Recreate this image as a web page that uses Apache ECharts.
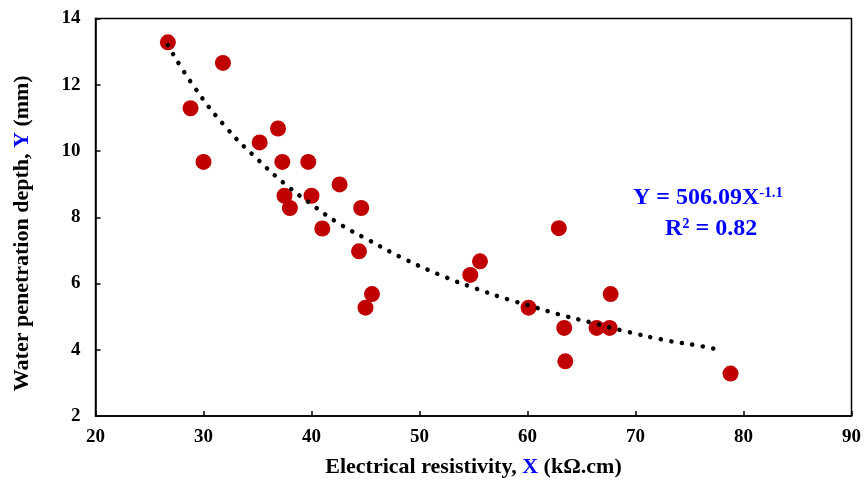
<!DOCTYPE html>
<html>
<head>
<meta charset="utf-8">
<script src="https://cdn.jsdelivr.net/npm/echarts@6/dist/echarts.min.js"></script>
<style>
	html, body { margin: 0; padding: 0; background: #fff; }
	#chart { width: 865px; height: 490px; }
</style>
</head>
<body>
<div id="chart"></div>
<script>
// measured points: resistivity (kΩ.cm) vs water penetration depth (mm)
const resistivity = [
	26.7, 28.8, 30.0, 31.8, 35.2, 36.9, 37.3, 37.5, 38.0, 39.7, 40.0, 41.0, 42.6, 44.4,
	44.6, 45.0, 45.6, 54.7, 55.6, 60.1, 62.9, 63.4, 63.5, 66.4, 67.6, 67.7, 78.8
]
const depth = [
	13.28, 11.29, 9.67, 12.66, 10.26, 10.68, 9.67, 8.65, 8.28, 9.67, 8.65, 7.66, 8.99, 6.97,
	8.28, 5.27, 5.68, 6.26, 6.67, 5.27, 7.67, 4.66, 3.65, 4.66, 4.66, 5.68, 3.28
]
// dotted power trendline
const trendX = [26.7, 29.0, 32.2, 35.2, 37.6, 40.0, 42.6, 45.3, 48.8, 52.5, 55.3, 58.2, 60.1, 63.0, 65.9, 68.9, 72.9, 75.9, 77.9]
const trendY = [13.2, 12.0, 10.67, 9.69, 8.99, 8.39, 7.8, 7.31, 6.71, 6.18, 5.84, 5.52, 5.34, 5.06, 4.82, 4.57, 4.28, 4.12, 3.99]

const xTicks = { min: 20, max: 90, step: 10 }
const yTicks = { min: 2, max: 14, step: 2 }

const font = "'Liberation Serif', 'Times New Roman', serif"
const blue = "#0000FF"

const chart = echarts.init(document.getElementById("chart"), null, { renderer: "canvas" })

let option = {
	animation: false,
	backgroundColor: "#fff",
	grid: {
		left: 95.5,
		right: 13.5,
		top: 18.5,
		bottom: 74,
		show: true,
		borderColor: "#000",
		borderWidth: 1.5,
		backgroundColor: "transparent"
	},
	xAxis: {
		type: "value",
		min: xTicks.min,
		max: xTicks.max,
		interval: xTicks.step,
		name: "Electrical resistivity, {b|X} (kΩ.cm)",
		nameLocation: "middle",
		nameGap: 40,
		nameTextStyle: {
			fontFamily: font,
			fontWeight: "bold",
			fontSize: 22,
			color: "#000",
			rich: {
				b: { fontFamily: font, fontWeight: "bold", fontSize: 22, color: blue }
			}
		},
		axisLine: { show: true, lineStyle: { color: "#000", width: 1.5 } },
		axisTick: { show: true, inside: true, length: 5, lineStyle: { color: "#000", width: 1.5 } },
		axisLabel: {
			margin: 12,
			fontFamily: font,
			fontWeight: "bold",
			fontSize: 19,
			color: "#000"
		},
		splitLine: { show: false }
	},
	yAxis: {
		type: "value",
		min: yTicks.min,
		max: yTicks.max,
		interval: yTicks.step,
		name: "Water penetration depth, {b|Y} (mm)",
		nameLocation: "middle",
		nameRotate: 90,
		nameGap: 62,
		nameTextStyle: {
			fontFamily: font,
			fontWeight: "bold",
			fontSize: 22,
			color: "#000",
			padding: [0, 32, 0, 0],
			rich: {
				b: { fontFamily: font, fontWeight: "bold", fontSize: 22, color: blue }
			}
		},
		axisLine: { show: true, lineStyle: { color: "#000", width: 1.5 } },
		axisTick: { show: true, inside: true, length: 5, lineStyle: { color: "#000", width: 1.5 } },
		axisLabel: {
			margin: 15,
			fontFamily: font,
			fontWeight: "bold",
			fontSize: 19,
			color: "#000"
		},
		splitLine: { show: false }
	},
	graphic: [
		{
			type: "text",
			left: 633,
			top: 186,
			style: {
				text: "Y = 506.09X{sup|-1.1}",
				font: "bold 24px " + font,
				fill: blue,
				rich: {
					sup: { fontSize: 15, fontWeight: "bold", fontFamily: font, fill: blue, verticalAlign: "top", padding: [0, 0, 6, 0] }
				}
			}
		},
		{
			type: "text",
			left: 665,
			top: 217,
			style: {
				text: "R² = 0.82",
				font: "bold 24px " + font,
				fill: blue
			}
		}
	],
	series: [
		{
			name: "trend",
			type: "line",
			data: trendX.map((x, i) => [x, trendY[i]]),
			smooth: true,
			showSymbol: false,
			z: 3,
			lineStyle: {
				color: "#000",
				width: 4.5,
				type: [0.1, 10.5],
				cap: "round"
			}
		},
		{
			name: "data",
			type: "scatter",
			data: resistivity.map((x, i) => [x, depth[i]]),
			symbolSize: 16,
			z: 2,
			itemStyle: { color: "#C00000", opacity: 1 }
		}
	]
}

chart.setOption(option)
</script>
</body>
</html>
